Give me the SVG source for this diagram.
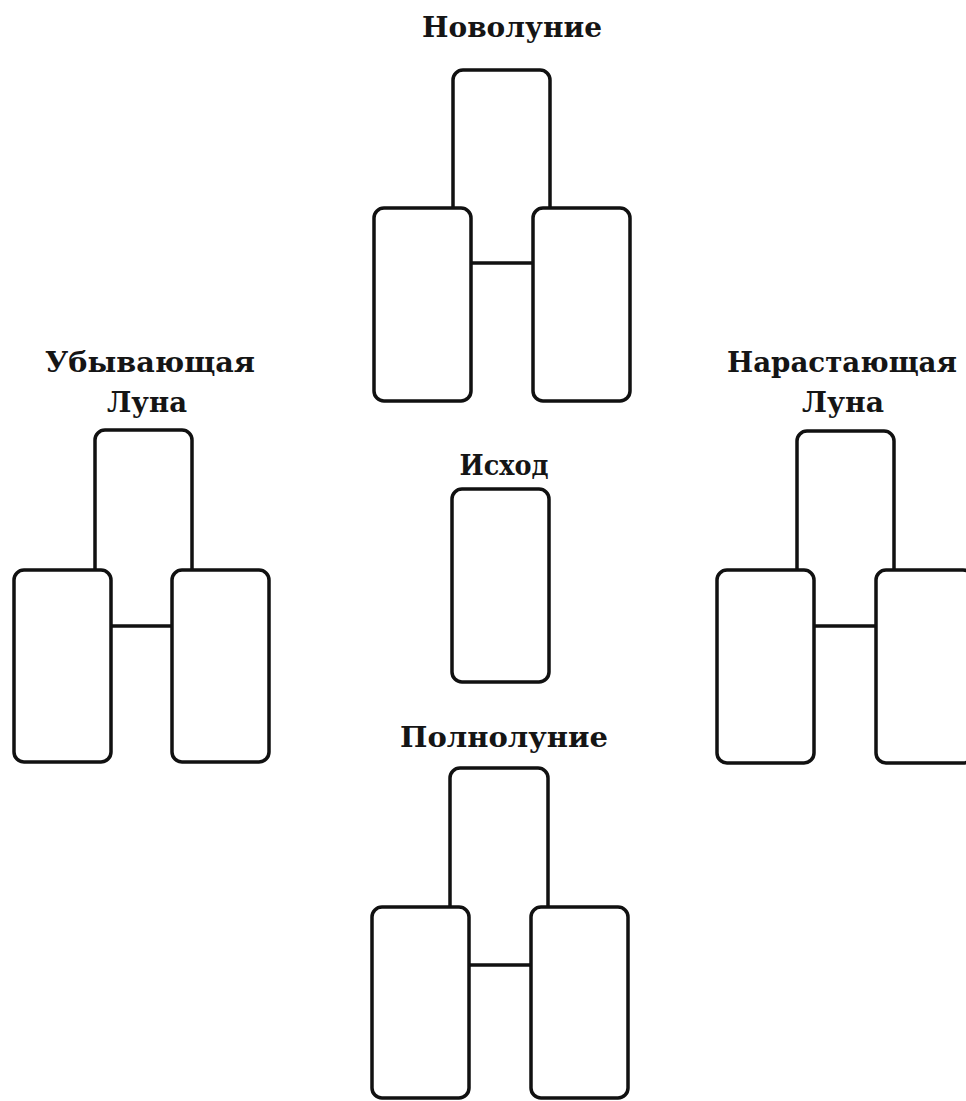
<svg xmlns="http://www.w3.org/2000/svg" width="966" height="1101" viewBox="0 0 966 1101">
  <style>
    .card { fill: #ffffff; stroke: #111111; stroke-width: 3.5; }
    .label { font-family: "DejaVu Serif", "Liberation Serif", serif; font-weight: bold; font-size: 27px; fill: #151515; text-anchor: middle; }
  </style>
  <rect x="0" y="0" width="966" height="1101" fill="#ffffff"/>

  <g id="connectors"></g>

  <g id="new-moon">
    <text class="label" x="512" y="37" textLength="180" lengthAdjust="spacingAndGlyphs">Новолуние</text>
    <rect class="card" x="453" y="70" width="97" height="193" rx="10"/>
    <rect class="card" x="374" y="208" width="97" height="193" rx="10"/>
    <rect class="card" x="533" y="208" width="97" height="193" rx="10"/>
  </g>

  <g id="waning-moon">
    <text class="label" x="150" y="372" textLength="210" lengthAdjust="spacingAndGlyphs">Убывающая</text>
    <text class="label" x="147" y="412" textLength="80" lengthAdjust="spacingAndGlyphs">Луна</text>
    <rect class="card" x="95" y="430" width="97" height="196" rx="10"/>
    <rect class="card" x="14" y="570" width="97" height="192" rx="10"/>
    <rect class="card" x="172" y="570" width="97" height="192" rx="10"/>
  </g>

  <g id="waxing-moon">
    <text class="label" x="842" y="372" textLength="230" lengthAdjust="spacingAndGlyphs">Нарастающая</text>
    <text class="label" x="843" y="412" textLength="82" lengthAdjust="spacingAndGlyphs">Луна</text>
    <rect class="card" x="797" y="431" width="97" height="195" rx="10"/>
    <rect class="card" x="717" y="570" width="97" height="193" rx="10"/>
    <rect class="card" x="876" y="570" width="97" height="193" rx="10"/>
  </g>

  <g id="outcome">
    <text class="label" x="504" y="475" textLength="89" lengthAdjust="spacingAndGlyphs">Исход</text>
    <rect class="card" x="452" y="489" width="97" height="193" rx="10"/>
  </g>

  <g id="full-moon">
    <text class="label" x="504" y="747" textLength="208" lengthAdjust="spacingAndGlyphs">Полнолуние</text>
    <rect class="card" x="450" y="768" width="98" height="197" rx="10"/>
    <rect class="card" x="372" y="907" width="97" height="191" rx="10"/>
    <rect class="card" x="531" y="907" width="97" height="191" rx="10"/>
  </g>
</svg>
